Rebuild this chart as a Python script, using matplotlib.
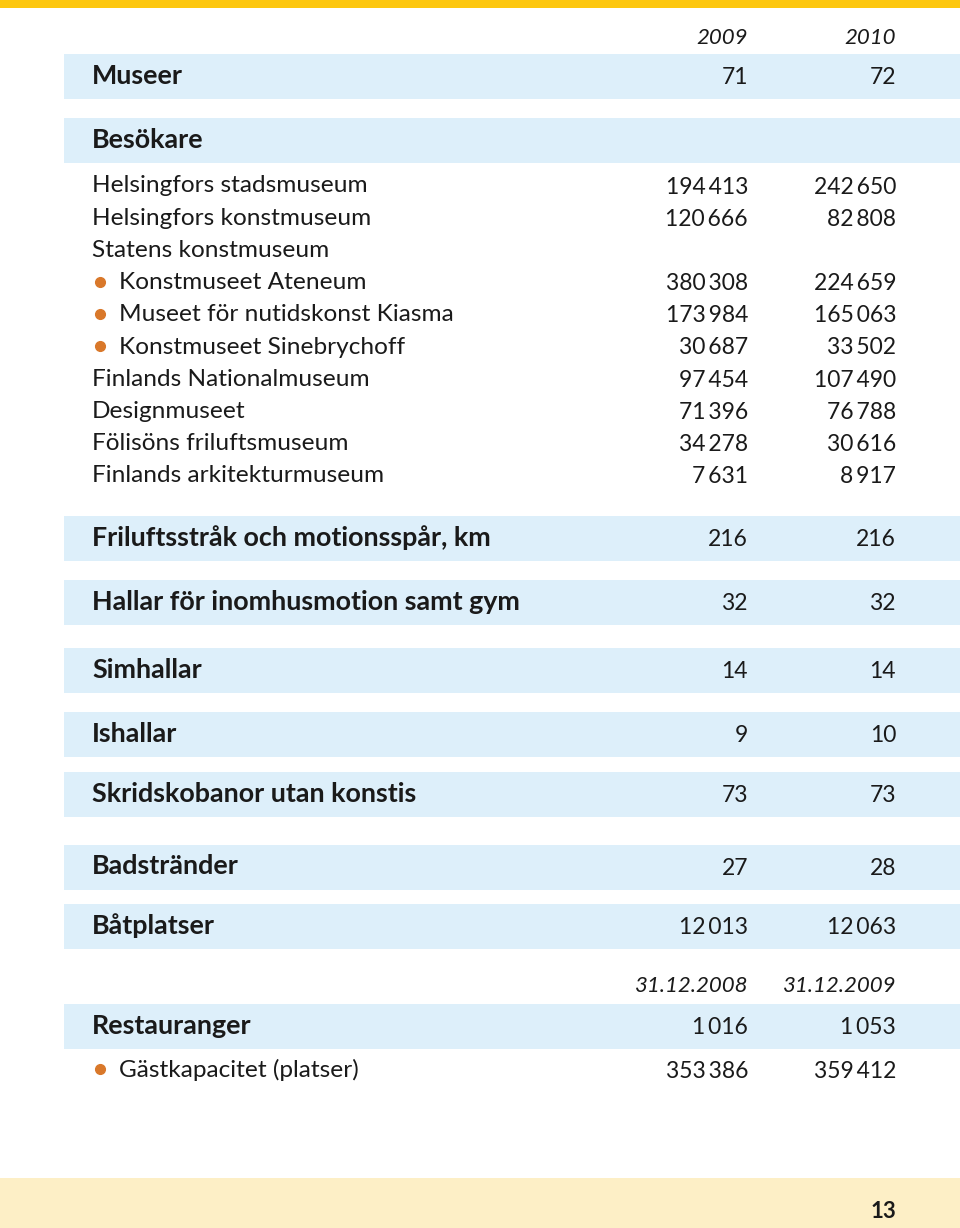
import matplotlib
matplotlib.use("Agg")
import matplotlib.pyplot as plt
from matplotlib.patches import Rectangle

plt.rcParams['font.family'] = ['Lato', 'DejaVu Sans']

# ---- data ----
years = ['2009', '2010']
museer = [71, 72]

visitor_labels = ['Helsingfors stadsmuseum', 'Helsingfors konstmuseum', 'Statens konstmuseum',
                  'Konstmuseet Ateneum', 'Museet för nutidskonst Kiasma', 'Konstmuseet Sinebrychoff',
                  'Finlands Nationalmuseum', 'Designmuseet', 'Fölisöns friluftsmuseum',
                  'Finlands arkitekturmuseum']
visitor_bullet = [False, False, False, True, True, True, False, False, False, False]
visitors_2009 = [194413, 120666, None, 380308, 173984, 30687, 97454, 71396, 34278, 7631]
visitors_2010 = [242650, 82808, None, 224659, 165063, 33502, 107490, 76788, 30616, 8917]

facility_labels = ['Friluftsstråk och motionsspår, km', 'Hallar för inomhusmotion samt gym',
                   'Simhallar', 'Ishallar', 'Skridskobanor utan konstis', 'Badstränder', 'Båtplatser']
facility_2009 = [216, 32, 14, 9, 73, 27, 12013]
facility_2010 = [216, 32, 14, 10, 73, 28, 12063]
facility_top = [516, 580, 648, 712, 772, 845, 904]

dates = ['31.12.2008', '31.12.2009']
restauranger = [1016, 1053]
gastkap = [353386, 359412]

# ---- layout ----
W, H = 960, 1228
band_col = '#ddeffa'
txt = '#1a1a1a'
bullet_col = '#d9782a'
col_x = [748, 896]
left = 92
band_h = 45
fs_body, fs_bold, fs_num = 17.6, 19.4, 16.5


def fmt(v):
    if v is None:
        return ''
    return '{:,}'.format(v).replace(',', '\u2009')


fig = plt.figure(figsize=(W / 100, H / 100), dpi=100)
ax = fig.add_axes([0, 0, 1, 1])
ax.set_xlim(0, W)
ax.set_ylim(H, 0)
ax.axis('off')

# top and bottom page strips
ax.add_patch(Rectangle((0, 0), W, 8, color='#fdc70f', lw=0))
ax.add_patch(Rectangle((0, 1178), W, 50, color='#fdefc6', lw=0))
ax.text(896, 1211, '13', ha='right', va='center', fontsize=16, fontweight='bold', color=txt)


def band(top, label, vals):
    ax.add_patch(Rectangle((64, top), W - 64, band_h, color=band_col, lw=0))
    yc = top + band_h / 2 - 1
    ax.text(left, yc, label, ha='left', va='center', fontsize=fs_bold, fontweight='bold', color=txt)
    for x, v in zip(col_x, vals):
        ax.text(x, yc + 2, fmt(v), ha='right', va='center', fontsize=fs_num, color=txt)


def header(y, labels):
    for x, s in zip(col_x, labels):
        ax.text(x, y, s, ha='right', va='center', fontsize=16, style='italic', color=txt)


header(38, years)
band(54, 'Museer', museer)
band(118, 'Besökare', [None, None])

row_y0, row_step = 186, 32.2
for i, (lab, b, a, c) in enumerate(zip(visitor_labels, visitor_bullet, visitors_2009, visitors_2010)):
    y = row_y0 + i * row_step
    if b:
        ax.plot(100, y - 1, 'o', ms=7, color=bullet_col)
        ax.text(119, y, lab, ha='left', va='center', fontsize=fs_body, color=txt)
    else:
        ax.text(left, y, lab, ha='left', va='center', fontsize=fs_body, color=txt)
    for x, v in zip(col_x, [a, c]):
        ax.text(x, y + 1, fmt(v), ha='right', va='center', fontsize=fs_num, color=txt)

for top, lab, a, c in zip(facility_top, facility_labels, facility_2009, facility_2010):
    band(top, lab, [a, c])

header(986, dates)
band(1004, 'Restauranger', restauranger)

y = 1070
ax.plot(100, y - 1, 'o', ms=7, color=bullet_col)
ax.text(119, y, 'Gästkapacitet (platser)', ha='left', va='center', fontsize=fs_body, color=txt)
for x, v in zip(col_x, gastkap):
    ax.text(x, y + 1, fmt(v), ha='right', va='center', fontsize=fs_num, color=txt)

fig.savefig('out.png', dpi=100, facecolor='white')
